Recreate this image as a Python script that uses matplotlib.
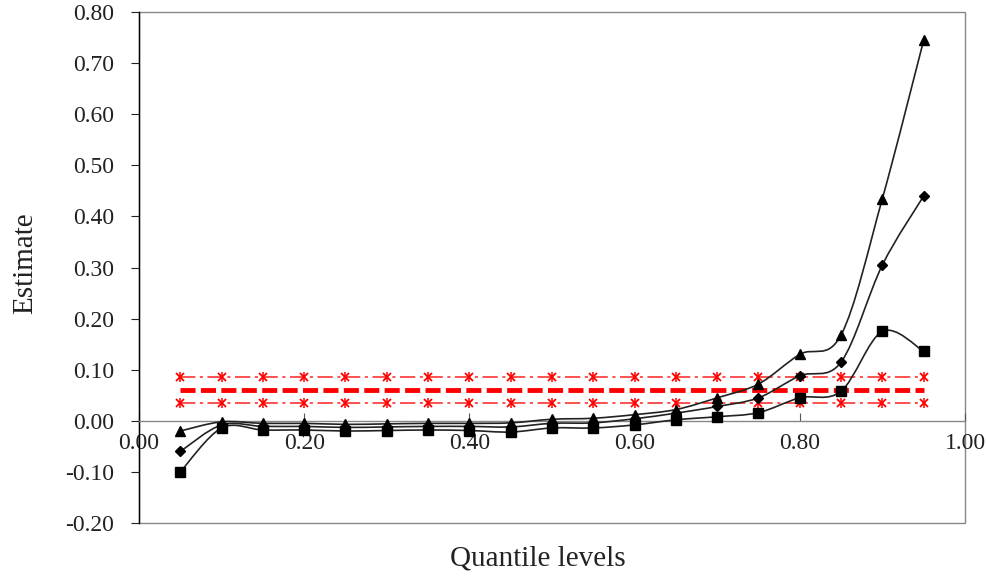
import matplotlib
matplotlib.use("Agg")
import matplotlib.pyplot as plt
from matplotlib.path import Path
from matplotlib.patches import PathPatch, Rectangle
import numpy as np

quantiles = [0.05, 0.10, 0.15, 0.20, 0.25, 0.30, 0.35, 0.40, 0.45, 0.50,
             0.55, 0.60, 0.65, 0.70, 0.75, 0.80, 0.85, 0.90, 0.95]
upper = [-0.020, -0.002, -0.005, -0.005, -0.007, -0.006, -0.005, -0.005, -0.004, 0.003,
         0.005, 0.012, 0.022, 0.045, 0.072, 0.130, 0.168, 0.435, 0.745]
middle = [-0.060, -0.008, -0.011, -0.011, -0.013, -0.012, -0.011, -0.011, -0.012, -0.005,
          -0.004, 0.004, 0.015, 0.028, 0.045, 0.088, 0.115, 0.305, 0.440]
lower = [-0.100, -0.014, -0.018, -0.018, -0.020, -0.019, -0.018, -0.019, -0.022, -0.014,
         -0.014, -0.008, 0.002, 0.008, 0.016, 0.045, 0.058, 0.175, 0.136]
ref_level = [0.060] * len(quantiles)
ref_upper = [0.085] * len(quantiles)
ref_lower = [0.035] * len(quantiles)

xticks = [0.00, 0.20, 0.40, 0.60, 0.80, 1.00]
yticks = [-0.20, -0.10, 0.00, 0.10, 0.20, 0.30, 0.40, 0.50, 0.60, 0.70, 0.80]

plt.rcParams['font.family'] = ['Liberation Serif', 'DejaVu Serif']

fig = plt.figure(figsize=(9.87, 5.80), dpi=100)
ax = fig.add_axes([139/987, 57/580, 826/987, 511/580])
ax.set_xlim(0, 1.0)
ax.set_ylim(-0.2, 0.8)


def smooth_path(xs, ys):
    pts = np.column_stack([xs, ys])
    n = len(pts)
    verts = [pts[0]]
    codes = [Path.MOVETO]
    for i in range(n - 1):
        p0 = pts[i - 1] if i > 0 else pts[i]
        p1 = pts[i]
        p2 = pts[i + 1]
        p3 = pts[i + 2] if i + 2 < n else pts[i + 1]
        c1 = p1 + (p2 - p0) / 6.0
        c2 = p2 - (p3 - p1) / 6.0
        verts += [c1, c2, p2]
        codes += [Path.CURVE4] * 3
    return Path(verts, codes)


# red reference lines
ax.plot(quantiles, ref_level, color='#ff0000', lw=3.5, dashes=(3.1, 1.1), zorder=2)
for ys in (ref_upper, ref_lower):
    ax.plot(quantiles, ys, color='#ff2020', lw=1.1, dashes=(10, 3, 2, 3), zorder=2)
    ax.plot(quantiles, ys, ls='none', marker='x', ms=6, mew=1.3, color='#ff0000', zorder=3)
    ax.plot(quantiles, ys, ls='none', marker='|', ms=7, mew=1.1, color='#ff0000', zorder=3)

# black series with smoothed lines
for ys, mk, ms in ((upper, '^', 7.5), (middle, 'D', 5), (lower, 's', 7)):
    ax.add_patch(PathPatch(smooth_path(quantiles, ys), fill=False, edgecolor='#222222',
                           lw=1.2, zorder=4))
    ax.plot(quantiles, ys, ls='none', marker=mk, ms=ms, color='black', zorder=5)

# frame
for s in ['top', 'right']:
    ax.spines[s].set_visible(False)
ax.spines['left'].set_color('black')
ax.spines['left'].set_linewidth(1.0)
ax.spines['bottom'].set_position(('data', 0))
ax.spines['bottom'].set_color('#888888')
ax.spines['bottom'].set_linewidth(1.0)
ax.add_patch(Rectangle((0, 0), 1, 1, transform=ax.transAxes, fill=False,
                       edgecolor='#888888', lw=1.0, zorder=1, clip_on=False))

ax.set_xticks(xticks)
ax.set_xticklabels([f"{v:.2f}" for v in xticks])
ax.set_yticks(yticks)
ax.set_yticklabels([f"{v:.2f}" for v in yticks])
ax.tick_params(axis='x', direction='in', length=6, width=0.8,
               labelsize=17, pad=9, colors='#222222')
ax.tick_params(axis='x', color='#555555')
ax.tick_params(axis='y', direction='out', length=6, width=0.8, labelsize=17, pad=12,
               colors='#222222')

fig.text(25/987, 1 - 263/580, 'Estimate', fontsize=21, ha='center', va='center',
         rotation=90, color='#222222')
fig.text(538/987, 1 - 558/580, 'Quantile levels', fontsize=21, ha='center', va='center',
         color='#222222')

fig.savefig('out.png', dpi=100)
